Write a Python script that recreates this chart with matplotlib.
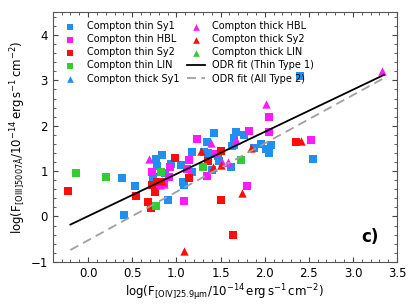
import matplotlib
matplotlib.use("Agg")
import matplotlib.pyplot as plt
import numpy as np

# Compton thin Sy1 (blue squares)
thin_sy1_x = [0.39, 0.53, 0.41, 0.765, 0.84, 0.78, 0.73, 0.87, 0.90, 0.935, 1.05, 1.07, 1.09,
              1.18, 1.18, 1.31, 1.35, 1.36, 1.43, 1.40, 1.47, 1.48, 1.615, 1.63, 1.65, 1.67,
              1.65, 1.77, 1.88, 1.96, 2.01, 2.05, 2.07, 2.55, 2.40]
thin_sy1_y = [0.84, 0.67, 0.04, 1.26, 1.35, 1.12, 0.86, 0.96, 0.36, 1.15, 1.13, 0.76, 0.70,
              1.43, 0.98, 1.43, 1.65, 1.39, 1.84, 1.02, 1.34, 1.22, 1.10, 1.55, 1.72, 1.87,
              1.57, 1.80, 1.50, 1.60, 1.48, 1.40, 1.58, 1.26, 3.10]
# Compton thin HBL (magenta squares)
thin_hbl_x = [0.72, 0.78, 0.86, 0.93, 0.915, 1.085, 1.14, 1.23, 1.35, 1.45, 1.82, 1.80,
              2.045, 2.045, 2.52, 1.12]
thin_hbl_y = [0.99, 0.69, 0.73, 1.10, 0.86, 0.33, 1.24, 1.70, 0.90, 1.38, 1.88, 0.68,
              2.19, 1.87, 1.69, 1.05]
# Compton thin Sy2 (red squares)
thin_sy2_x = [-0.23, 0.54, 0.68, 0.715, 0.755, 0.725, 0.78, 0.83, 0.99, 1.14, 1.36, 1.50,
              1.50, 1.64, 2.36]
thin_sy2_y = [0.56, 0.46, 0.32, 0.18, 0.54, 0.70, 0.75, 0.76, 1.28, 0.84, 1.22, 1.44,
              0.37, -0.40, 1.65]
# Compton thin LIN (green squares)
thin_lin_x = [-0.14, 0.20, 0.775, 0.83, 1.305, 1.73]
thin_lin_y = [0.95, 0.86, 0.23, 0.97, 1.10, 1.24]
# Compton thick Sy1 (blue triangles)
thick_sy1_x = []
thick_sy1_y = []
# Compton thick HBL (magenta triangles)
thick_hbl_x = [0.69, 1.39, 1.59, 1.68, 2.015, 3.33, 0.86, 0.81, 1.52]
thick_hbl_y = [1.26, 1.61, 1.19, 1.68, 2.47, 3.21, 0.72, 0.69, 1.21]
# Compton thick Sy2 (red triangles)
thick_sy2_x = [1.28, 1.42, 1.51, 1.74, 1.84, 1.09, 2.41, 0.84]
thick_sy2_y = [1.45, 1.09, 1.13, 0.51, 1.51, -0.76, 1.66, 0.79]
# Compton thick LIN (green triangles)
thick_lin_x = []
thick_lin_y = []

# ODR fits (endpoints)
fit_x = [-0.2, 3.35]
fit_thin1_y = [-0.18, 3.12]
fit_type2_y = [-0.74, 3.05]

BLUE = "#1f8ff0"
MAG = "#ff19ff"
RED = "#ff0d0d"
GREEN = "#33cc33"

fig = plt.figure(figsize=(4.15, 3.08), dpi=100)
ax = fig.add_axes([0.127, 0.15, 0.83, 0.81])

ms = 36
ax.scatter(thin_sy1_x, thin_sy1_y, marker="s", s=ms, color=BLUE, label="Compton thin Sy1", zorder=3, linewidths=0)
ax.scatter(thin_hbl_x, thin_hbl_y, marker="s", s=ms, color=MAG, label="Compton thin HBL", zorder=3, linewidths=0)
ax.scatter(thin_sy2_x, thin_sy2_y, marker="s", s=ms, color=RED, label="Compton thin Sy2", zorder=3, linewidths=0)
ax.scatter(thin_lin_x, thin_lin_y, marker="s", s=ms, color=GREEN, label="Compton thin LIN", zorder=3, linewidths=0)
ax.scatter(thick_sy1_x, thick_sy1_y, marker="^", s=ms, color=BLUE, label="Compton thick Sy1", zorder=3, linewidths=0)
ax.scatter(thick_hbl_x, thick_hbl_y, marker="^", s=ms, color=MAG, label="Compton thick HBL", zorder=3, linewidths=0)
ax.scatter(thick_sy2_x, thick_sy2_y, marker="^", s=ms, color=RED, label="Compton thick Sy2", zorder=3, linewidths=0)
ax.scatter(thick_lin_x, thick_lin_y, marker="^", s=ms, color=GREEN, label="Compton thick LIN", zorder=3, linewidths=0)
ax.plot(fit_x, fit_thin1_y, color="black", lw=1.3, label="ODR fit (Thin Type 1)", zorder=4)
ax.plot(fit_x, fit_type2_y, color="#a0a0a0", lw=1.3, ls=(0, (5, 3)), label="ODR fit (All Type 2)", zorder=4)

ax.set_xlim(-0.4, 3.5)
ax.set_ylim(-1, 4.5)
ax.set_xticks([0.0, 0.5, 1.0, 1.5, 2.0, 2.5, 3.0, 3.5])
ax.set_yticks([-1, 0, 1, 2, 3, 4])
ax.set_xticks(np.arange(-0.4, 3.51, 0.1), minor=True)
ax.set_yticks(np.arange(-1, 4.51, 0.2), minor=True)
ax.tick_params(which="both", direction="in", top=True, right=True, labelsize=8.5, colors="#444444", labelcolor="black")
ax.tick_params(which="major", length=3.5)
ax.tick_params(which="minor", length=2)
for sp in ax.spines.values():
    sp.set_color("#555555")

ax.set_xlabel(r"log(F$_{\rm [OIV]25.9\mu m}$/10$^{-14}\,$erg$\,$s$^{-1}\,$cm$^{-2}$)", fontsize=8.5, labelpad=2)
ax.set_ylabel(r"log(F$_{\rm [OIII]5007\AA}$/10$^{-14}\,$erg$\,$s$^{-1}\,$cm$^{-2}$)", fontsize=8.5, labelpad=2)

ax.text(0.92, 0.1, "c)", transform=ax.transAxes, fontsize=12, fontweight="bold", ha="center", va="center")

ax.legend(loc="upper left", ncol=2, frameon=False, fontsize=7, handlelength=1.8,
          handletextpad=0.8, columnspacing=0.8, labelspacing=0.32, borderaxespad=0.5,
          scatterpoints=1, markerscale=0.8)

fig.savefig("out.png", dpi=100)
